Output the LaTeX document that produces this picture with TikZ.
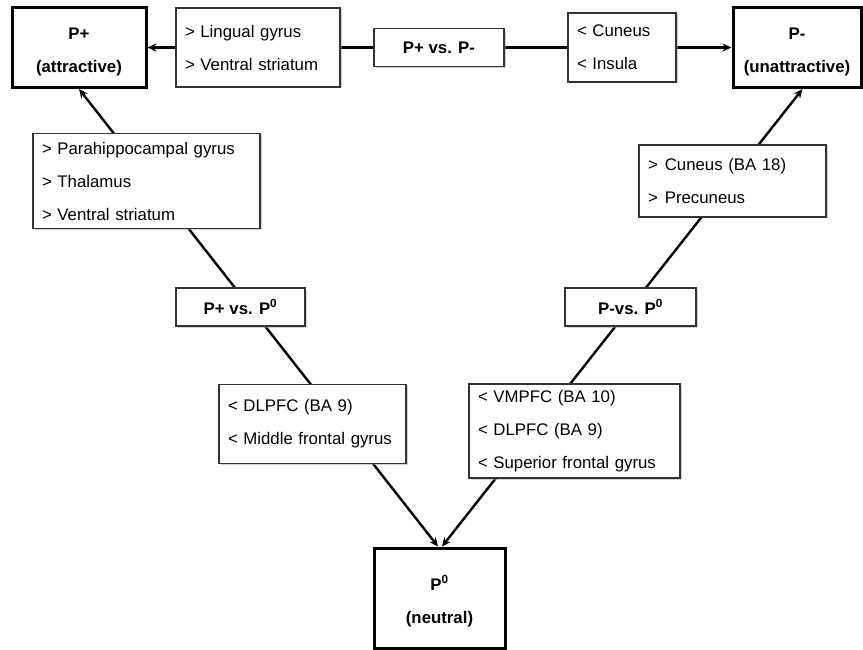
\documentclass[tikz,border=0pt]{standalone}
\usepackage{fontspec}
\setmainfont{Liberation Sans}
\usetikzlibrary{arrows.meta, shadows, backgrounds, calc}

\newcommand{\topstrut}{\rule{0pt}{21pt}}

\begin{document}
\begin{tikzpicture}[x=1pt, y=-1pt,
    region/.style={rectangle, draw=black!80, line width=1.2pt, fill=white,
        drop shadow={shadow xshift=1.5pt, shadow yshift=-1.5pt, fill=black!35},
        font=\fontsize{16.8}{33}\selectfont, inner xsep=9pt, inner ysep=0pt,
        align=left, text width=#1},
    contrast/.style={rectangle, draw=black!80, line width=1.2pt, fill=white,
        drop shadow={shadow xshift=1.5pt, shadow yshift=-1.5pt, fill=black!35},
        font=\bfseries\fontsize{16.8}{33}\selectfont, minimum width=#1, minimum height=38pt},
    cond/.style 2 args={rectangle, draw, line width=3pt, fill=white, align=center,
        font=\bfseries\fontsize{16.8}{33}\selectfont, minimum width=#1, minimum height=#2},
    link/.style={line width=2.4pt},
    arr/.style={link, -{Stealth[length=9pt, width=8pt]}}
]
    \useasboundingbox (0,0) rectangle (863,650);

    % Conditions
    \node[cond={134pt}{80pt}] (pplus) at (79,47.5) {\topstrut P+\\(attractive)};
    \node[cond={128pt}{80pt}] (pminus) at (797,47.5) {\topstrut P-\\(unattractive)};
    \node[cond={131pt}{100pt}] (pzero) at (439.5,598) {\topstrut P\textsuperscript{0}\\(neutral)};

    % Contrasts
    \node[contrast=130pt] (pvm) at (439,47.5) {P+ vs. P-};
    \node[contrast=129pt] (pvz) at (240.5,307) {P+ vs. P\textsuperscript{0}};
    \node[contrast=131pt] (mvz) at (630.5,307) {P-vs. P\textsuperscript{0}};

    % Regions
    \node[region=146pt, minimum height=79pt] (lingual) at (258,47.5)
        {> Lingual gyrus\\> Ventral striatum};
    \node[region=90pt, minimum height=69pt] (cuneus) at (622,47.5)
        {< Cuneus\\< Insula};
    \node[region=209pt, minimum height=95pt] (parahip) at (146.5,181)
        {> Parahippocampal gyrus\\> Thalamus\\> Ventral striatum};
    \node[region=169pt, minimum height=72pt] (precun) at (732.5,181)
        {>\hspace{7pt}Cuneus (BA 18)\\>\hspace{7pt}Precuneus};
    \node[region=169pt, minimum height=79pt] (dlpfc) at (312.5,424)
        {< DLPFC (BA 9)\\< Middle frontal gyrus};
    \node[region=193pt, minimum height=94pt] (vmpfc) at (574.5,431)
        {< VMPFC (BA 10)\\< DLPFC (BA 9)\\< Superior frontal gyrus};

    % Connectors
    \coordinate (ltop) at (pplus.south);
    \coordinate (lbot) at ($(pzero.north)+(-1.5,0)$);
    \coordinate (rtop) at ($(pminus.south)+(5.5,0)$);
    \coordinate (rbot) at ($(pzero.north)+(2.5,0)$);
    \coordinate (lmid) at ($(ltop)!0.5!(lbot)$);
    \coordinate (rmid) at ($(rtop)!0.5!(rbot)$);
    \begin{scope}[on background layer]
        \draw[arr] (lingual) -- (pplus);
        \draw[link] (pvm) -- (lingual);
        \draw[link] (pvm) -- (cuneus);
        \draw[arr] (cuneus) -- (pminus);
        \draw[arr] (lmid) -- (ltop);
        \draw[arr] (lmid) -- (lbot);
        \draw[arr] (rmid) -- (rtop);
        \draw[arr] (rmid) -- (rbot);
    \end{scope}
\end{tikzpicture}
\end{document}
